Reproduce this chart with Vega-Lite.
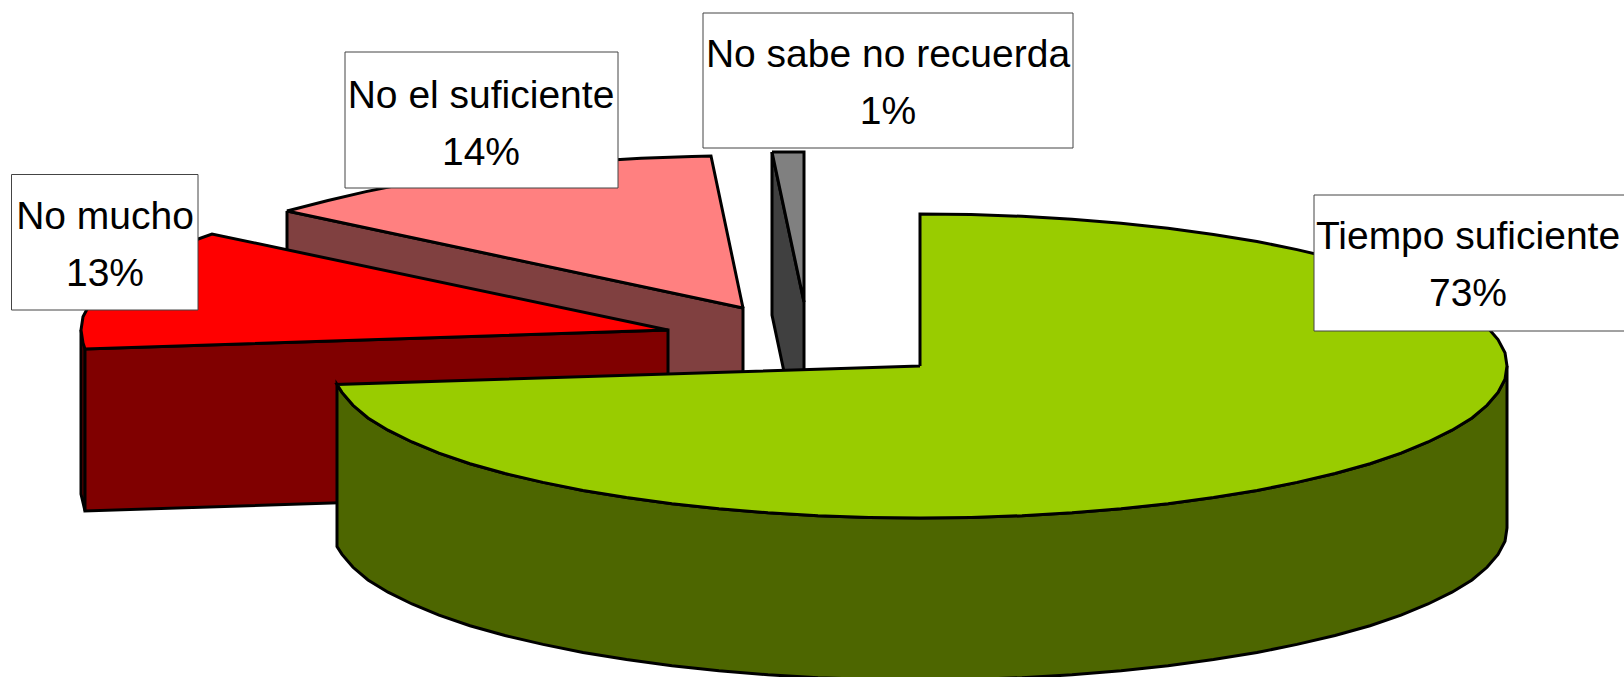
{"$schema":"https://vega.github.io/schema/vega-lite/v6.json","width":1624,"height":677,"padding":0,"autosize":{"type":"none"},"background":"white","config":{"view":{"stroke":null}},
"datasets":{"slices":[
{"part":"suficiente-lado","x":287,"y":211},{"part":"suficiente-lado","x":743,"y":308},{"part":"suficiente-lado","x":743,"y":470},{"part":"suficiente-lado","x":287,"y":373},{"part":"suficiente-lado","x":287,"y":211},
{"part":"suficiente-cara","x":743,"y":308},{"part":"suficiente-cara","x":711,"y":156},{"part":"suficiente-cara","x":692,"y":156.6},{"part":"suficiente-cara","x":641,"y":158.3},{"part":"suficiente-cara","x":591,"y":161.2},{"part":"suficiente-cara","x":542,"y":165.2},{"part":"suficiente-cara","x":495,"y":170.2},{"part":"suficiente-cara","x":449.5,"y":176.4},{"part":"suficiente-cara","x":406,"y":183.5},{"part":"suficiente-cara","x":366,"y":191.6},{"part":"suficiente-cara","x":328,"y":200.5},{"part":"suficiente-cara","x":287,"y":211},{"part":"suficiente-cara","x":743,"y":308},
{"part":"recuerda-lado","x":772,"y":152},{"part":"recuerda-lado","x":804,"y":302},{"part":"recuerda-lado","x":804,"y":400},{"part":"recuerda-lado","x":790,"y":400},{"part":"recuerda-lado","x":772,"y":315},{"part":"recuerda-lado","x":772,"y":152},
{"part":"recuerda-cara","x":772,"y":152},{"part":"recuerda-cara","x":804,"y":152},{"part":"recuerda-cara","x":804,"y":302},{"part":"recuerda-cara","x":772,"y":152},
{"part":"mucho-borde","x":81,"y":330},{"part":"mucho-borde","x":85,"y":349},{"part":"mucho-borde","x":85,"y":511},{"part":"mucho-borde","x":81,"y":494},{"part":"mucho-borde","x":81,"y":330},
{"part":"mucho-lado","x":85,"y":349},{"part":"mucho-lado","x":668,"y":330},{"part":"mucho-lado","x":668,"y":492},{"part":"mucho-lado","x":85,"y":511},{"part":"mucho-lado","x":85,"y":349},
{"part":"mucho-cara","x":668,"y":330},{"part":"mucho-cara","x":212,"y":234},{"part":"mucho-cara","x":187,"y":243},{"part":"mucho-cara","x":160,"y":254},{"part":"mucho-cara","x":136,"y":265.8},{"part":"mucho-cara","x":116,"y":278},{"part":"mucho-cara","x":101,"y":290.7},{"part":"mucho-cara","x":90,"y":303.6},{"part":"mucho-cara","x":83,"y":316.8},{"part":"mucho-cara","x":81,"y":330},{"part":"mucho-cara","x":83,"y":343},{"part":"mucho-cara","x":85,"y":349},{"part":"mucho-cara","x":668,"y":330},
{"part":"tiempo-lado","x":1507,"y":366},{"part":"tiempo-lado","x":1505,"y":379.3},{"part":"tiempo-lado","x":1498,"y":392.4},{"part":"tiempo-lado","x":1487,"y":405.3},{"part":"tiempo-lado","x":1472,"y":418},{"part":"tiempo-lado","x":1452,"y":430.2},{"part":"tiempo-lado","x":1428,"y":442},{"part":"tiempo-lado","x":1401,"y":453.2},{"part":"tiempo-lado","x":1370,"y":463.7},{"part":"tiempo-lado","x":1335,"y":473.5},{"part":"tiempo-lado","x":1297,"y":482.4},{"part":"tiempo-lado","x":1257,"y":490.5},{"part":"tiempo-lado","x":1213.5,"y":497.6},{"part":"tiempo-lado","x":1168,"y":503.8},{"part":"tiempo-lado","x":1121,"y":508.8},{"part":"tiempo-lado","x":1072,"y":512.8},{"part":"tiempo-lado","x":1022,"y":515.7},{"part":"tiempo-lado","x":971,"y":517.4},{"part":"tiempo-lado","x":920,"y":518},{"part":"tiempo-lado","x":869,"y":517.4},{"part":"tiempo-lado","x":818,"y":515.7},{"part":"tiempo-lado","x":768,"y":512.8},{"part":"tiempo-lado","x":719,"y":508.8},{"part":"tiempo-lado","x":672,"y":503.8},{"part":"tiempo-lado","x":626.5,"y":497.6},{"part":"tiempo-lado","x":583,"y":490.5},{"part":"tiempo-lado","x":543,"y":482.4},{"part":"tiempo-lado","x":505,"y":473.5},{"part":"tiempo-lado","x":470,"y":463.7},{"part":"tiempo-lado","x":439,"y":453.2},{"part":"tiempo-lado","x":412,"y":442},{"part":"tiempo-lado","x":388,"y":430.2},{"part":"tiempo-lado","x":368,"y":418},{"part":"tiempo-lado","x":353,"y":405.3},{"part":"tiempo-lado","x":342,"y":392.4},{"part":"tiempo-lado","x":337,"y":384.5},
{"part":"tiempo-lado","x":337,"y":546.5},{"part":"tiempo-lado","x":342,"y":554.4},{"part":"tiempo-lado","x":353,"y":567.3},{"part":"tiempo-lado","x":368,"y":580},{"part":"tiempo-lado","x":388,"y":592.2},{"part":"tiempo-lado","x":412,"y":604},{"part":"tiempo-lado","x":439,"y":615.2},{"part":"tiempo-lado","x":470,"y":625.7},{"part":"tiempo-lado","x":505,"y":635.5},{"part":"tiempo-lado","x":543,"y":644.4},{"part":"tiempo-lado","x":583,"y":652.5},{"part":"tiempo-lado","x":626.5,"y":659.6},{"part":"tiempo-lado","x":672,"y":665.8},{"part":"tiempo-lado","x":719,"y":670.8},{"part":"tiempo-lado","x":768,"y":674.8},{"part":"tiempo-lado","x":818,"y":677.7},{"part":"tiempo-lado","x":869,"y":679.4},{"part":"tiempo-lado","x":920,"y":680},{"part":"tiempo-lado","x":971,"y":679.4},{"part":"tiempo-lado","x":1022,"y":677.7},{"part":"tiempo-lado","x":1072,"y":674.8},{"part":"tiempo-lado","x":1121,"y":670.8},{"part":"tiempo-lado","x":1168,"y":665.8},{"part":"tiempo-lado","x":1213.5,"y":659.6},{"part":"tiempo-lado","x":1257,"y":652.5},{"part":"tiempo-lado","x":1297,"y":644.4},{"part":"tiempo-lado","x":1335,"y":635.5},{"part":"tiempo-lado","x":1370,"y":625.7},{"part":"tiempo-lado","x":1401,"y":615.2},{"part":"tiempo-lado","x":1428,"y":604},{"part":"tiempo-lado","x":1452,"y":592.2},{"part":"tiempo-lado","x":1472,"y":580},{"part":"tiempo-lado","x":1487,"y":567.3},{"part":"tiempo-lado","x":1498,"y":554.4},{"part":"tiempo-lado","x":1505,"y":541.3},{"part":"tiempo-lado","x":1507,"y":528},{"part":"tiempo-lado","x":1507,"y":366},
{"part":"tiempo-cara","x":920,"y":366},{"part":"tiempo-cara","x":920,"y":214},{"part":"tiempo-cara","x":971,"y":214.6},{"part":"tiempo-cara","x":1022,"y":216.3},{"part":"tiempo-cara","x":1072,"y":219.2},{"part":"tiempo-cara","x":1121,"y":223.2},{"part":"tiempo-cara","x":1168,"y":228.2},{"part":"tiempo-cara","x":1213.5,"y":234.4},{"part":"tiempo-cara","x":1257,"y":241.5},{"part":"tiempo-cara","x":1297,"y":249.6},{"part":"tiempo-cara","x":1335,"y":258.5},{"part":"tiempo-cara","x":1370,"y":268.3},{"part":"tiempo-cara","x":1401,"y":278.8},{"part":"tiempo-cara","x":1428,"y":290},{"part":"tiempo-cara","x":1452,"y":301.8},{"part":"tiempo-cara","x":1472,"y":314},{"part":"tiempo-cara","x":1487,"y":326.7},{"part":"tiempo-cara","x":1498,"y":339.6},{"part":"tiempo-cara","x":1505,"y":352.7},{"part":"tiempo-cara","x":1507,"y":366},{"part":"tiempo-cara","x":1505,"y":379.3},{"part":"tiempo-cara","x":1498,"y":392.4},{"part":"tiempo-cara","x":1487,"y":405.3},{"part":"tiempo-cara","x":1472,"y":418},{"part":"tiempo-cara","x":1452,"y":430.2},{"part":"tiempo-cara","x":1428,"y":442},{"part":"tiempo-cara","x":1401,"y":453.2},{"part":"tiempo-cara","x":1370,"y":463.7},{"part":"tiempo-cara","x":1335,"y":473.5},{"part":"tiempo-cara","x":1297,"y":482.4},{"part":"tiempo-cara","x":1257,"y":490.5},{"part":"tiempo-cara","x":1213.5,"y":497.6},{"part":"tiempo-cara","x":1168,"y":503.8},{"part":"tiempo-cara","x":1121,"y":508.8},{"part":"tiempo-cara","x":1072,"y":512.8},{"part":"tiempo-cara","x":1022,"y":515.7},{"part":"tiempo-cara","x":971,"y":517.4},{"part":"tiempo-cara","x":920,"y":518},{"part":"tiempo-cara","x":869,"y":517.4},{"part":"tiempo-cara","x":818,"y":515.7},{"part":"tiempo-cara","x":768,"y":512.8},{"part":"tiempo-cara","x":719,"y":508.8},{"part":"tiempo-cara","x":672,"y":503.8},{"part":"tiempo-cara","x":626.5,"y":497.6},{"part":"tiempo-cara","x":583,"y":490.5},{"part":"tiempo-cara","x":543,"y":482.4},{"part":"tiempo-cara","x":505,"y":473.5},{"part":"tiempo-cara","x":470,"y":463.7},{"part":"tiempo-cara","x":439,"y":453.2},{"part":"tiempo-cara","x":412,"y":442},{"part":"tiempo-cara","x":388,"y":430.2},{"part":"tiempo-cara","x":368,"y":418},{"part":"tiempo-cara","x":353,"y":405.3},{"part":"tiempo-cara","x":342,"y":392.4},{"part":"tiempo-cara","x":337,"y":384.5},{"part":"tiempo-cara","x":920,"y":366}
],
"labels":[
{"label":"No mucho\n13%","left":11.5,"right":198,"top":174.5,"bottom":310,"cx":105,"base":229},
{"label":"No el suficiente\n14%","left":345,"right":618,"top":52,"bottom":188,"cx":481,"base":107.5},
{"label":"No sabe no recuerda\n1%","left":703,"right":1073,"top":13,"bottom":148,"cx":888,"base":67},
{"label":"Tiempo suficiente\n73%","left":1314,"right":1640,"top":195,"bottom":331,"cx":1468,"base":249}
]},
"layer":[
{"data":{"name":"slices"},"mark":{"type":"line","stroke":"black","strokeWidth":3,"strokeJoin":"miter","interpolate":"linear","clip":true},
"encoding":{"x":{"field":"x","type":"quantitative","scale":{"domain":[0,1624],"nice":false,"zero":false},"axis":null},
"y":{"field":"y","type":"quantitative","scale":{"domain":[677,0],"nice":false,"zero":false},"axis":null},
"detail":{"field":"part"},"order":{"value":null},
"fill":{"field":"part","type":"nominal","legend":null,"scale":{"domain":["suficiente-lado","suficiente-cara","recuerda-lado","recuerda-cara","mucho-borde","mucho-lado","mucho-cara","tiempo-lado","tiempo-cara"],"range":["#804040","#FF8080","#404040","#808080","#800000","#800000","#FF0000","#4D6600","#99CC00"]}}}},
{"data":{"name":"labels"},"mark":{"type":"rect","fill":"white","stroke":"#444444","strokeWidth":1,"clip":true},
"encoding":{"x":{"field":"left","type":"quantitative","scale":{"domain":[0,1624],"nice":false,"zero":false},"axis":null},"x2":{"field":"right"},
"y":{"field":"top","type":"quantitative","scale":{"domain":[677,0],"nice":false,"zero":false},"axis":null},"y2":{"field":"bottom"}}},
{"data":{"name":"labels"},"mark":{"type":"text","font":"Liberation Sans","fontSize":39,"align":"center","baseline":"alphabetic","lineBreak":"\n","lineHeight":57,"color":"black"},
"encoding":{"x":{"field":"cx","type":"quantitative","scale":{"domain":[0,1624],"nice":false,"zero":false},"axis":null},
"y":{"field":"base","type":"quantitative","scale":{"domain":[677,0],"nice":false,"zero":false},"axis":null},
"text":{"field":"label"}}}
]}
